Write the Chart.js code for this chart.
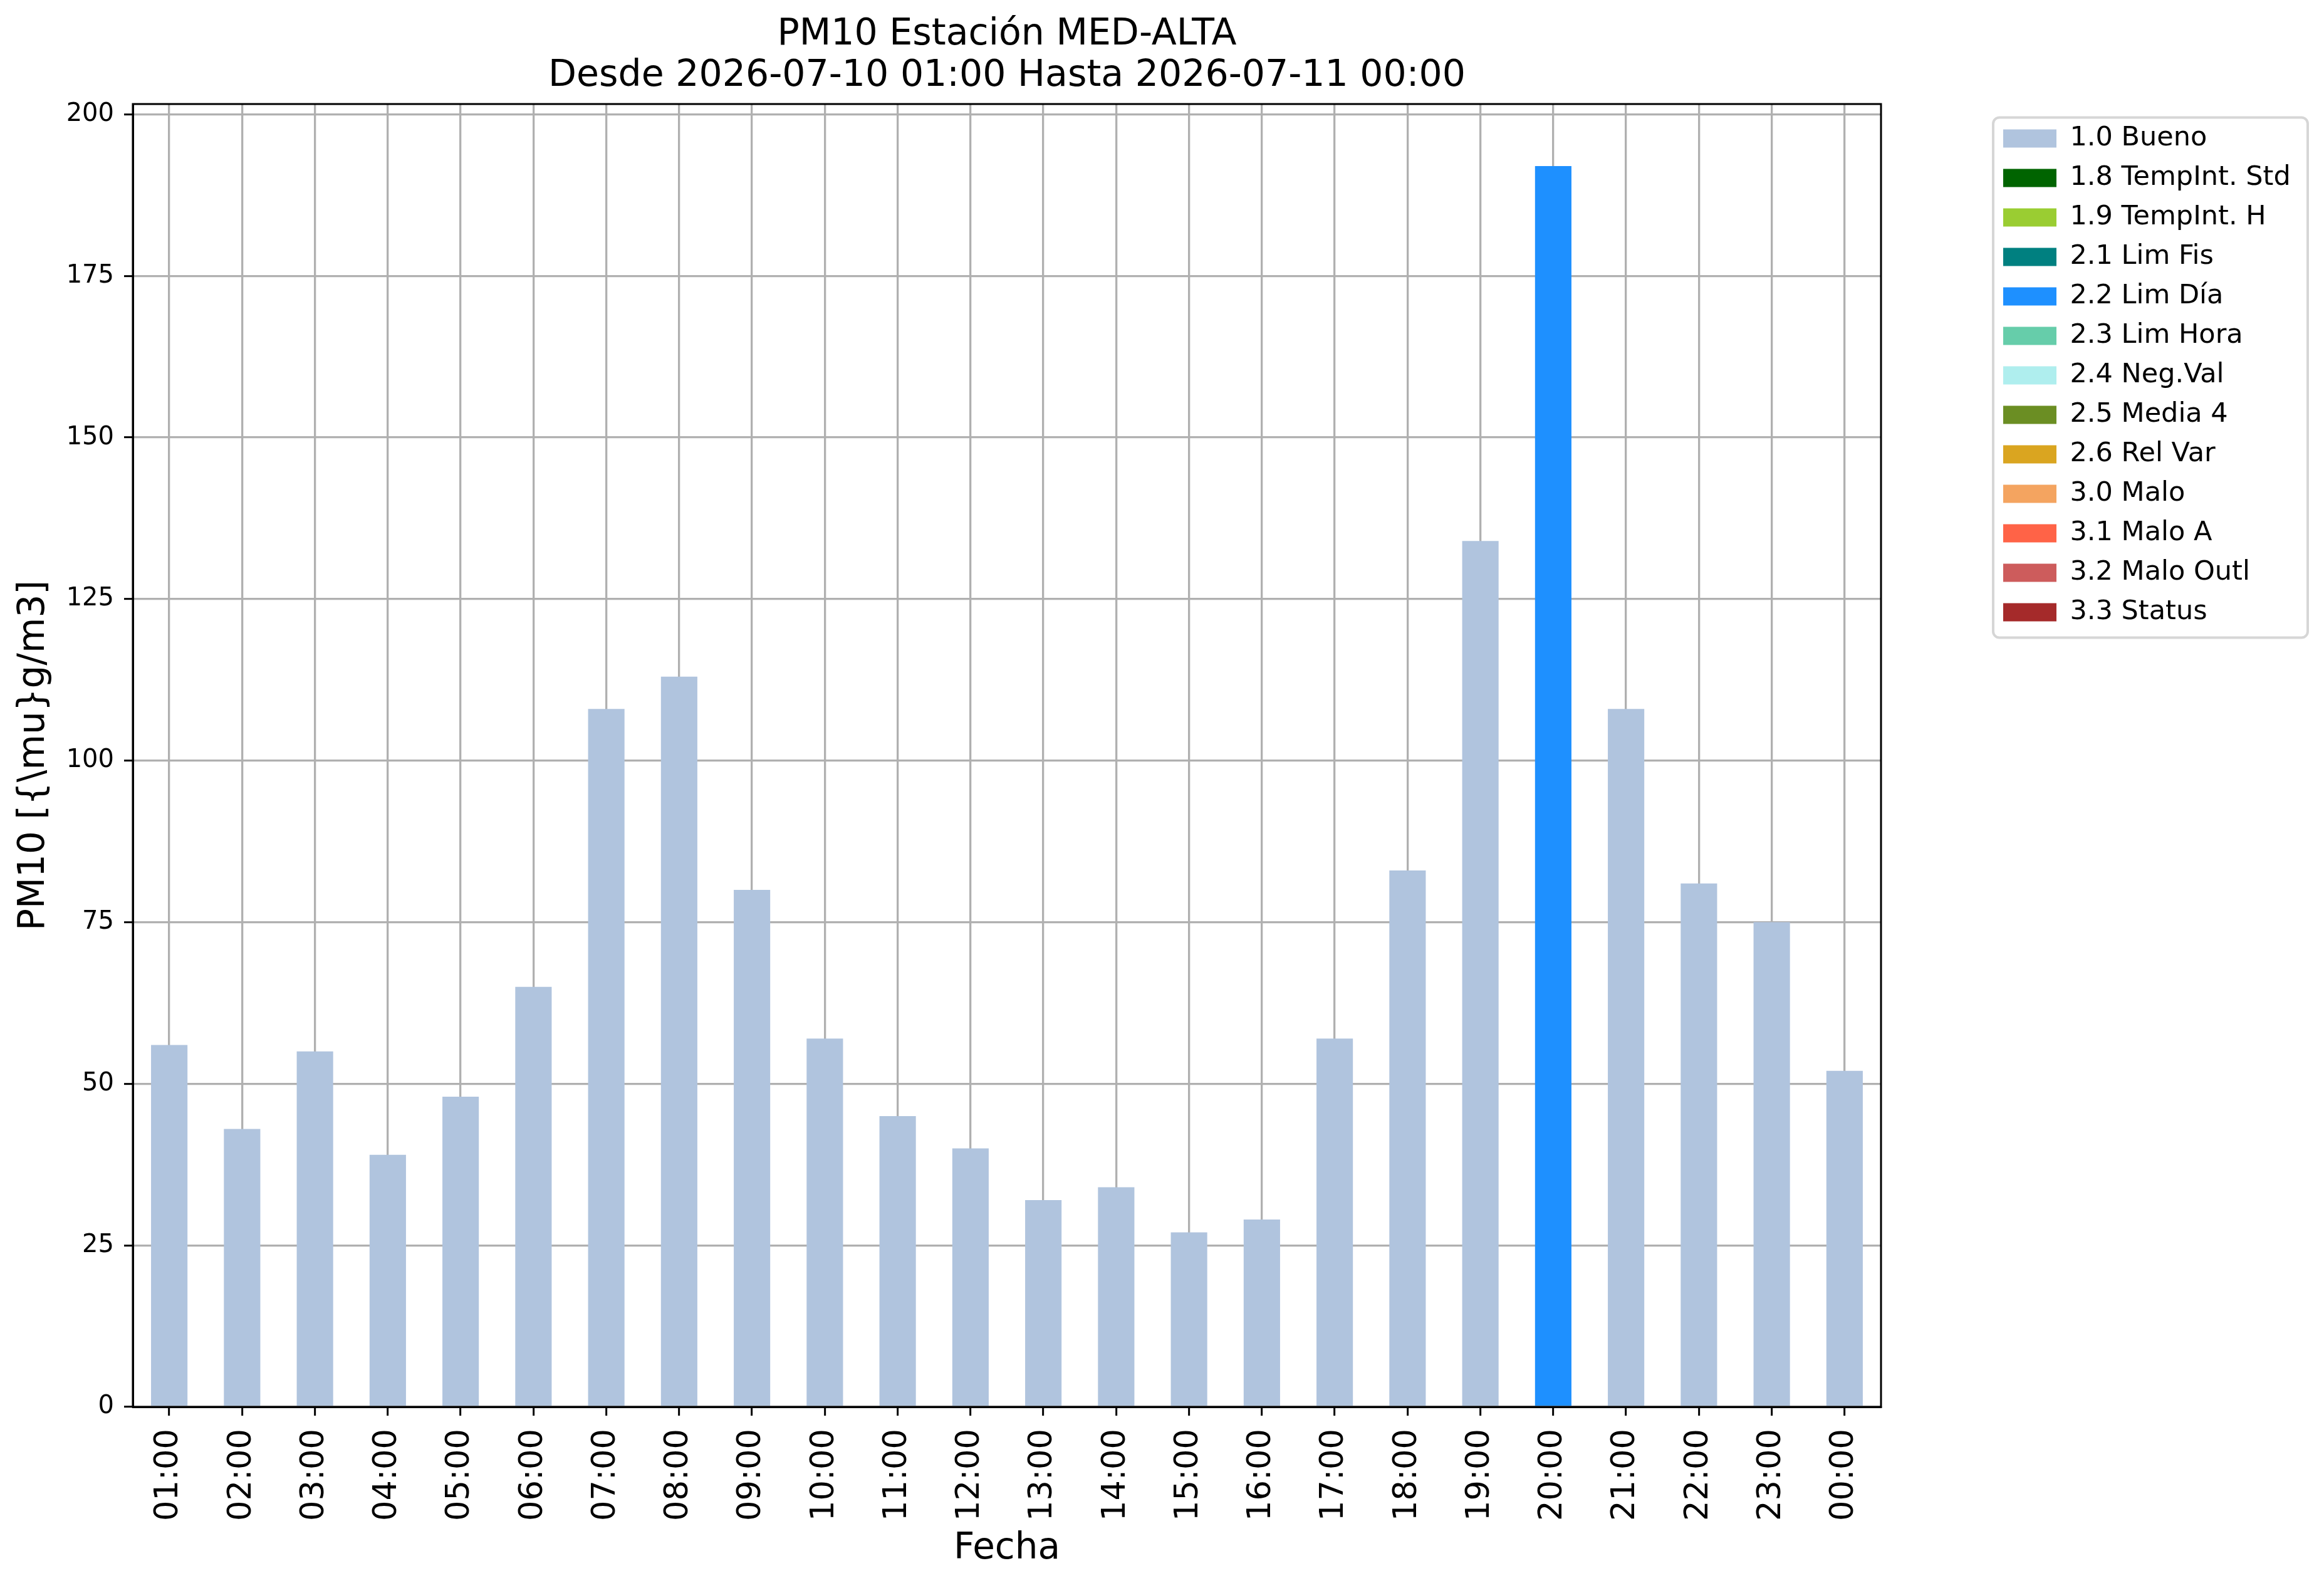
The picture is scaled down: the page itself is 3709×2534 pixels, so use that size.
<!DOCTYPE html>
<html>
<head>
<meta charset="utf-8">
<script src="https://cdn.jsdelivr.net/npm/chart.js@4.4.1/dist/chart.umd.min.js"></script>
<style>
  html, body { margin: 0; padding: 0; background: #fff; }
</style>
</head>
<body>
<canvas id="myChart" width="3709" height="2534"></canvas>
<script>
// hourly PM10 values and their validation flag
const hours = ['01:00', '02:00', '03:00', '04:00', '05:00', '06:00', '07:00', '08:00',
  '09:00', '10:00', '11:00', '12:00', '13:00', '14:00', '15:00', '16:00',
  '17:00', '18:00', '19:00', '20:00', '21:00', '22:00', '23:00', '00:00'];
const pm10 = [56, 43, 55, 39, 48, 65, 108, 113, 80, 57, 45, 40,
  32, 34, 27, 29, 57, 83, 134, 192, 108, 81, 75, 52];
const flags = ['1.0', '1.0', '1.0', '1.0', '1.0', '1.0', '1.0', '1.0',
  '1.0', '1.0', '1.0', '1.0', '1.0', '1.0', '1.0', '1.0',
  '1.0', '1.0', '1.0', '2.2', '1.0', '1.0', '1.0', '1.0'];

const codes = ['1.0', '1.8', '1.9', '2.1', '2.2', '2.3', '2.4', '2.5', '2.6', '3.0', '3.1', '3.2', '3.3'];
const names = ['Bueno', 'TempInt. Std', 'TempInt. H', 'Lim Fis', 'Lim Día', 'Lim Hora',
  'Neg.Val', 'Media 4', 'Rel Var', 'Malo', 'Malo A', 'Malo Outl', 'Status'];
const colors = ['#B0C4DE', '#006400', '#9ACD32', '#008080', '#1E90FF', '#66CDAA',
  '#AFEEEE', '#6B8E23', '#DAA520', '#F4A460', '#FF6347', '#CD5C5C', '#A52A2A'];

const yTicks = [0, 25, 50, 75, 100, 125, 150, 175, 200];
const yMax = 201.6;

Chart.defaults.font.family = '"DejaVu Sans", sans-serif';
Chart.defaults.color = '#000';

const datasets = codes.map((c, i) => ({
  label: c + ' ' + names[i],
  data: pm10.map((v, h) => flags[h] === c ? v : null),
  backgroundColor: colors[i],
  borderWidth: 0
}));

// axes box + legend frame, like matplotlib
const frame = {
  id: 'frame',
  afterDraw(chart) {
    const { ctx, chartArea: a, legend } = chart;
    ctx.save();
    ctx.strokeStyle = '#000';
    ctx.lineWidth = 3;
    ctx.strokeRect(a.left, a.top, a.right - a.left, a.bottom - a.top);
    const x = legend.left + 4, y = legend.top + 21.5;
    ctx.strokeStyle = '#d6d6d6';
    ctx.lineWidth = 4;
    ctx.beginPath();
    if (ctx.roundRect) ctx.roundRect(x, y, 502, 830, 10);
    else ctx.rect(x, y, 502, 830);
    ctx.stroke();
    ctx.restore();
  }
};

const gridOpts = { color: '#b0b0b0', lineWidth: 3.3, tickColor: '#000', tickWidth: 3, tickLength: 14 };
const plotRight = 3002;
const legendGap = 175;

const chart = new Chart(document.getElementById('myChart').getContext('2d'), {
  type: 'bar',
  data: { labels: hours, datasets: datasets },
  options: {
    responsive: false,
    devicePixelRatio: 1,
    animation: false,
    barPercentage: 0.5,
    categoryPercentage: 1.0,
    layout: { padding: { left: 0, right: 55, top: 0, bottom: 0 } },
    plugins: {
      tooltip: { enabled: false },
      title: {
        display: true,
        fullSize: false,
        text: ['PM10 Estación MED-ALTA', 'Desde 2026-07-10 01:00 Hasta 2026-07-11 00:00'],
        font: { size: 58.5, weight: 'normal', lineHeight: 1.13 },
        color: '#000',
        padding: { top: 22.6, bottom: 11.2 }
      },
      legend: {
        position: 'right',
        align: 'start',
        fullSize: false,
        title: { display: true, text: '', padding: 0, font: { size: 10, lineHeight: 1.35 } },
        labels: {
          boxWidth: 85,
          boxHeight: 29,
          padding: 20,
          font: { size: 43 },
          color: '#000'
        }
      }
    },
    scales: {
      x: {
        stacked: true,
        z: 1,
        grid: Object.assign({ offset: false }, gridOpts),
        border: { display: true, color: '#000', width: 3 },
        ticks: { font: { size: 51 }, minRotation: 90, maxRotation: 90, padding: 21, autoSkip: false },
        title: { display: true, text: 'Fecha', font: { size: 58 }, padding: { top: 0, bottom: 27 } },
        afterFit(s) { s.height = 289; }
      },
      y: {
        stacked: true,
        z: 1,
        min: 0,
        max: yMax,
        grid: gridOpts,
        border: { display: true, color: '#000', width: 3 },
        ticks: { stepSize: 25, includeBounds: false, font: { size: 40 }, padding: 16 },
        afterBuildTicks(s) { s.ticks = yTicks.map(v => ({ value: v })); },
        title: { display: true, text: 'PM10 [{\\mu}g/m3]', font: { size: 58 }, padding: { top: 20, bottom: 0 } },
        afterFit(s) { s.width = 212; }
      },
      gap: {
        position: 'right',
        display: true,
        grid: { display: false },
        border: { display: false },
        ticks: { display: false },
        afterFit(s) { s.width = legendGap; }
      }
    }
  },
  plugins: [frame]
});

// nudge the right padding until the plot ends where the reference does
for (let i = 0; i < 3; i++) {
  const diff = chart.chartArea.right - plotRight;
  if (Math.abs(diff) < 0.5) break;
  chart.options.layout.padding.right = Math.max(0, chart.options.layout.padding.right + diff);
  chart.update();
}
</script>
</body>
</html>
